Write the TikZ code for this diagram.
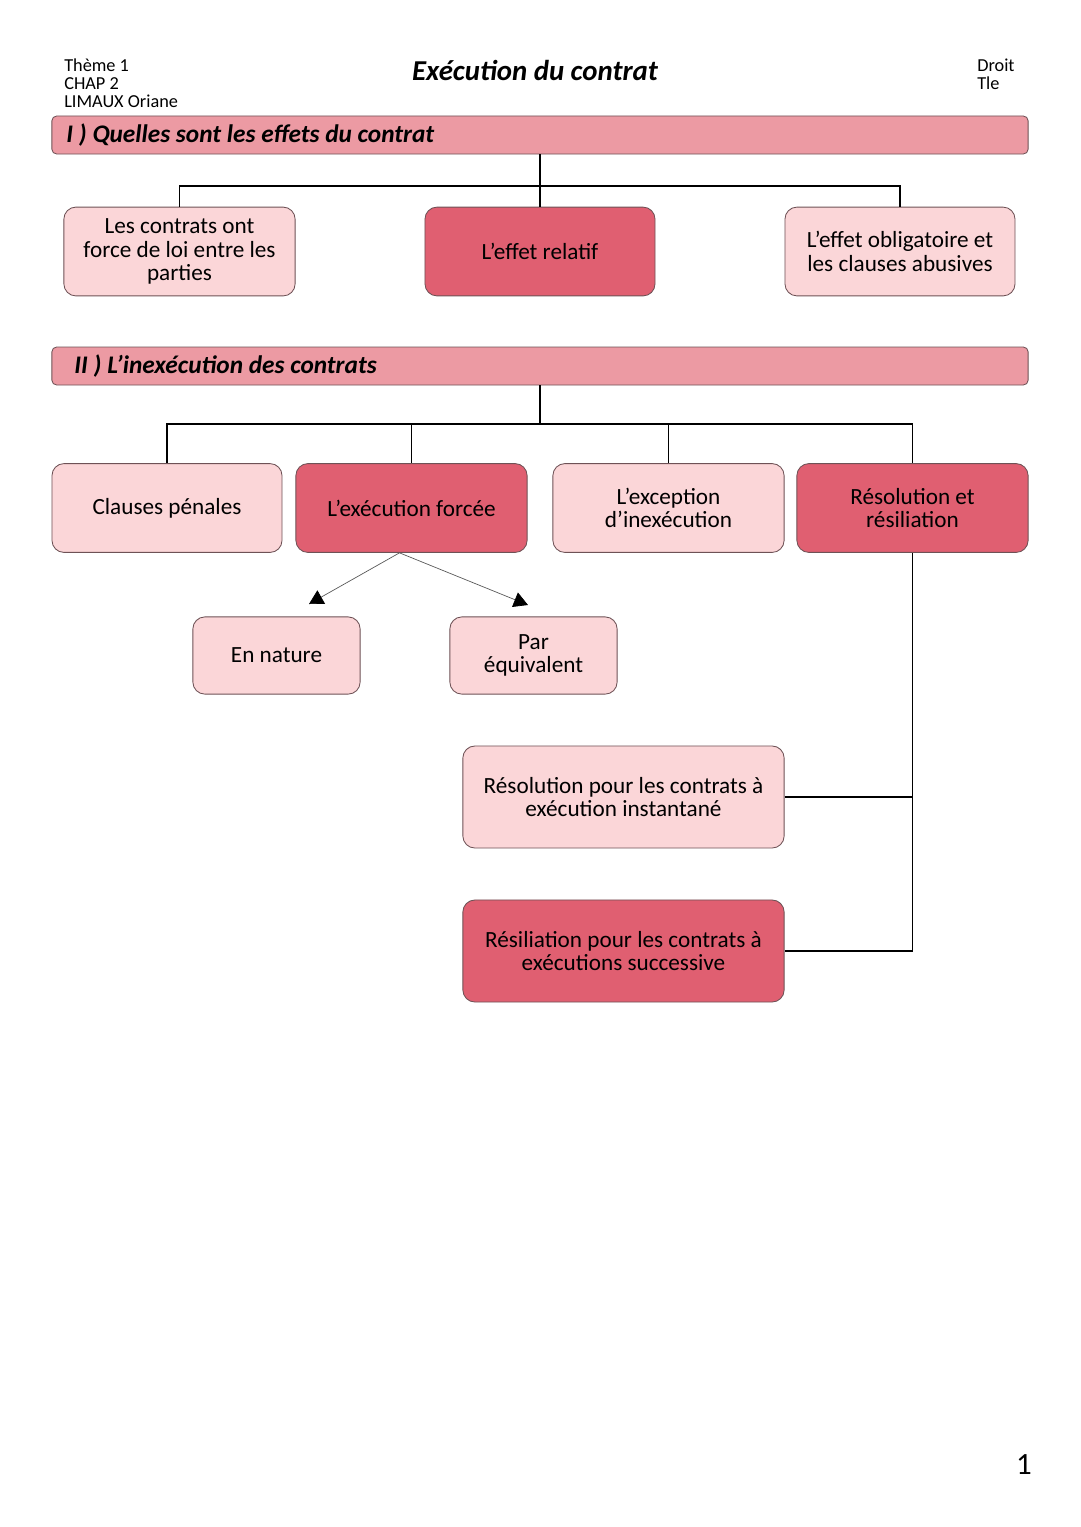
\documentclass[tikz,border=0pt]{standalone}
\usepackage{fontspec}
\setmainfont{Carlito}
\usetikzlibrary{arrows.meta}
\definecolor{rosepale}{HTML}{FBD6D8}
\definecolor{rosefonce}{HTML}{E05F71}
\definecolor{rosebarre}{HTML}{EC9AA3}
\definecolor{bord}{HTML}{6E5256}
\tikzset{
  boite/.style={draw=bord, line width=0.6pt, rounded corners=0.3cm, align=center,
    font=\fontsize{16.5}{16.8}\selectfont, inner sep=0pt},
  barre/.style={draw=bord, line width=0.6pt, fill=rosebarre, rounded corners=0.12cm,
    minimum width=24.4cm, minimum height=0.95cm, inner sep=0pt},
  lien/.style={line width=1.4pt, black},
  fleche/.style={draw=black!65, line width=0.5pt, -{Triangle[width=11pt,length=10pt,color=black]}}
}
\newcommand{\clair}{\node[boite, fill=rosepale]}
\newcommand{\fonce}{\node[boite, fill=rosefonce]}

\begin{document}
\begin{tikzpicture}[x=0.025cm, y=-0.025cm]
\useasboundingbox (0,0) rectangle (1080,1527);
% en-tete
\node[anchor=north west, align=left, font=\fontsize{13}{12.8}\selectfont, inner sep=0pt] (info) at (64,59) {Thème 1\\CHAP 2\\LIMAUX Oriane};
\node[font=\fontsize{20.5}{22}\selectfont\bfseries\itshape] (titre) at (535,70) {Exécution du contrat};
\node[anchor=north west, align=left, font=\fontsize{13}{12.8}\selectfont, inner sep=0pt] (mat) at (977,59) {Droit\\Tle};

% partie I
\node[barre] (s1) at (540,135) {};
\node[anchor=west, font=\fontsize{18}{20}\selectfont\bfseries\itshape] at (s1.west) {\hspace{0.25cm}I ) Quelles sont les effets du contrat};
\clair[minimum width=5.78cm, minimum height=2.22cm] (a) at (179.5,251.5) {Les contrats ont\\force de loi entre les\\parties};
\fonce[minimum width=5.75cm, minimum height=2.22cm] (b) at (540,251.5) {L’effet relatif};
\clair[minimum width=5.75cm, minimum height=2.22cm] (c) at (900,251.5) {L’effet obligatoire et\\les clauses abusives};
\coordinate (j1) at (540,186);
\draw[lien] (s1.south) -- (b.north);
\draw[lien] (j1) -| (a.north);
\draw[lien] (j1) -| (c.north);

% partie II
\node[barre] (s2) at (540,366) {};
\node[anchor=west, font=\fontsize{18}{20}\selectfont\bfseries\itshape] at (s2.west) {\hspace{0.45cm}II ) L’inexécution des contrats};
\clair[minimum width=5.75cm, minimum height=2.22cm] (cp) at (167,508) {Clauses pénales};
\fonce[minimum width=5.78cm, minimum height=2.22cm] (ef) at (411.5,508) {L’exécution forcée};
\clair[minimum width=5.78cm, minimum height=2.22cm] (ei) at (668.5,508) {L’exception\\d’inexécution};
\fonce[minimum width=5.78cm, minimum height=2.22cm] (rr) at (912.5,508) {Résolution et\\résiliation};
\coordinate (j2) at (540,424);
\draw[lien] (s2.south) -- (j2);
\draw[lien] (j2) -| (cp.north);
\draw[lien] (j2) -| (ef.north);
\draw[lien] (j2) -| (ei.north);
\draw[lien] (j2) -| (rr.north);

% execution forcee
\clair[minimum width=4.18cm, minimum height=1.93cm] (nat) at (276.5,655.5) {En nature};
\clair[minimum width=4.18cm, minimum height=1.93cm] (eq) at (533.5,655.5) {Par\\équivalent};
\coordinate (pn) at (309,604);
\coordinate (pe) at (528,605);
\draw[fleche] ([xshift=-0.3cm]ef.south) -- (pn);
\draw[fleche] ([xshift=-0.3cm]ef.south) -- (pe);

% resolution et resiliation
\clair[minimum width=8.03cm, minimum height=2.55cm] (res) at (623.5,797) {Résolution pour les contrats à\\exécution instantané};
\fonce[minimum width=8.03cm, minimum height=2.55cm] (resi) at (623.5,951) {Résiliation pour les contrats à\\exécutions successive};
\draw[lien] (rr.south) |- (resi.east);
\draw[lien] (res.east) -- (res.east -| rr.south);

\node[font=\fontsize{22}{24}\selectfont] (page) at (1024,1465) {1};
\end{tikzpicture}
\end{document}
